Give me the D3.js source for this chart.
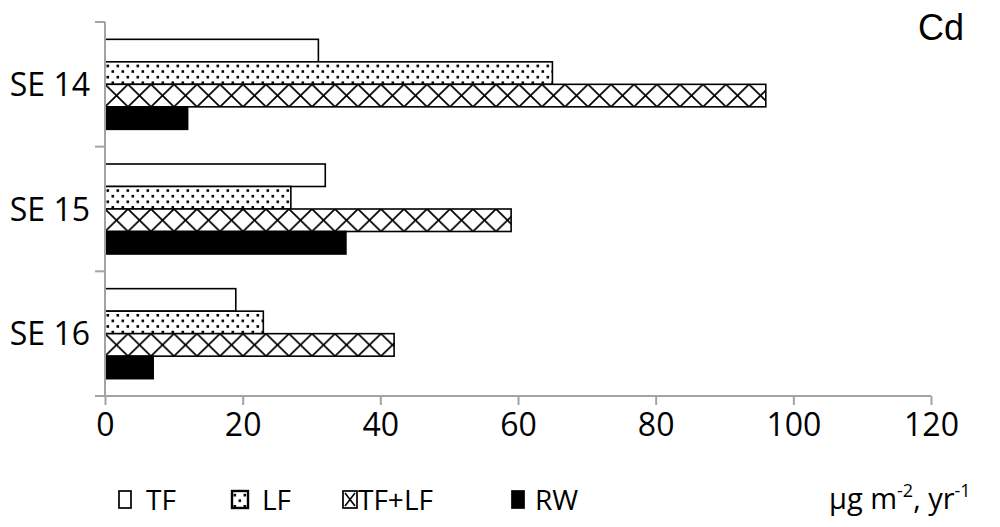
<!DOCTYPE html>
<html>
<head>
<meta charset="utf-8">
<script src="https://cdn.jsdelivr.net/npm/d3@7"></script>
<style>
  body { margin: 0; background: #fff; }
  svg { display: block; }
  .lbl { font-family: "Open Sans", "Noto Sans", sans-serif; fill: #000; }
</style>
</head>
<body>
<svg id="chart" width="1000" height="527"></svg>
<script>
const sites = ['SE 14', 'SE 15', 'SE 16'];
const seriesNames = ['TF', 'LF', 'TF+LF', 'RW'];
const tf = [31, 32, 19];
const lf = [65, 27, 23];
const tfLf = [96, 59, 42];
const rw = [12, 35, 7];
const xTicks = [0, 20, 40, 60, 80, 100, 120];

const values = [tf, lf, tfLf, rw];
const svg = d3.select('#chart');
const axisColor = '#a3a3a3';

const x = d3.scaleLinear().domain([0, 120]).range([105, 931]);
const y = d3.scaleBand().domain(sites).range([22, 396]);
const ySub = d3.scaleBand().domain(seriesNames)
  .range([0, y.bandwidth()]).paddingOuter(0.77);

/* patterns */
const defs = svg.append('defs');
const dots = defs.append('pattern')
  .attr('id', 'dots')
  .attr('patternUnits', 'userSpaceOnUse')
  .attr('width', 10).attr('height', 11.2);
dots.append('rect').attr('width', 10).attr('height', 11.2).attr('fill', '#fff');
[[1.5, 2.8], [6.5, 8.4]].forEach(([cx, cy]) => {
  dots.append('rect').attr('x', cx).attr('y', cy)
    .attr('width', 2.6).attr('height', 2.6).attr('fill', '#000');
});

const bh = ySub.bandwidth();
const cross = defs.append('pattern')
  .attr('id', 'cross')
  .attr('patternUnits', 'userSpaceOnUse')
  .attr('width', 23).attr('height', bh);
cross.append('rect').attr('width', 23).attr('height', bh).attr('fill', '#fff');
cross.append('path')
  .attr('d', `M0 0 L23 ${bh} M23 0 L0 ${bh}`)
  .attr('stroke', '#000').attr('stroke-width', 1.7);

const fills = ['#fff', 'url(#dots)', 'url(#cross)', '#000'];

/* bars */
seriesNames.forEach((s, i) => {
  svg.append('g').selectAll('g')
    .data(sites)
    .join('g')
    .attr('transform', (d) => `translate(${x(0)},${y(d) + ySub(s)})`)
    .append('rect')
    .attr('x', 0)
    .attr('y', 0)
    .attr('width', (d, j) => x(values[i][j]) - x(0))
    .attr('height', bh)
    .attr('fill', fills[i])
    .attr('stroke', '#000')
    .attr('stroke-width', 1.6);
});

/* x axis */
const xAxis = svg.append('g')
  .attr('transform', `translate(0,${y.range()[1]})`)
  .call(d3.axisBottom(x).tickValues(xTicks).tickSize(9).tickSizeOuter(0).tickPadding(8));
xAxis.select('.domain').attr('d', `M95,0H${x(120)}`);
xAxis.selectAll('line').attr('stroke', axisColor).attr('stroke-width', 2);
xAxis.select('.domain').attr('stroke', axisColor).attr('stroke-width', 2);
xAxis.selectAll('text')
  .attr('class', 'lbl')
  .attr('font-size', 32)
  .attr('fill', '#000');

/* y axis */
const yAxisG = svg.append('g');
yAxisG.append('line')
  .attr('x1', x(0)).attr('x2', x(0))
  .attr('y1', y.range()[0]).attr('y2', y.range()[1])
  .attr('stroke', axisColor).attr('stroke-width', 2);
const bounds = sites.map((d) => y(d)).concat([y.range()[1]]);
yAxisG.selectAll('line.tick')
  .data(bounds)
  .join('line')
  .attr('class', 'tick')
  .attr('x1', x(0) - 10).attr('x2', x(0))
  .attr('y1', (d) => d).attr('y2', (d) => d)
  .attr('stroke', axisColor).attr('stroke-width', 2);
yAxisG.selectAll('text')
  .data(sites)
  .join('text')
  .attr('class', 'lbl')
  .attr('x', 90)
  .attr('y', (d) => y(d) + y.bandwidth() / 2)
  .attr('dy', '0.36em')
  .attr('text-anchor', 'end')
  .attr('font-size', 32)
  .text((d) => d);

/* element label */
svg.append('text')
  .attr('x', 918)
  .attr('y', 40)
  .attr('font-family', '"Liberation Sans", Arial, sans-serif')
  .attr('font-size', 36)
  .text('Cd');

/* legend */
const legendX = [119, 232, 343, 512];
const textX = [146, 262, 358, 535];
const legend = svg.append('g');
seriesNames.forEach((s, i) => {
  const g = legend.append('g').attr('transform', `translate(${legendX[i]},491)`);
  const w = i === 1 ? 16 : (i === 2 ? 14 : 12);
  g.append('rect')
    .attr('x', 0).attr('y', 0)
    .attr('width', w).attr('height', 17)
    .attr('fill', i === 2 ? '#fff' : fills[i])
    .attr('stroke', '#000')
    .attr('stroke-width', i === 1 ? 2.4 : 1.7);
  if (i === 2) {
    g.append('path')
      .attr('d', `M2 2 L${w - 2} 15 M${w - 2} 2 L2 15`)
      .attr('stroke', '#000').attr('stroke-width', 1.6);
  }
  legend.append('text')
    .attr('class', 'lbl')
    .attr('x', textX[i])
    .attr('y', 510)
    .attr('font-size', 28)
    .text(s);
});

/* unit label */
const unit = svg.append('text')
  .attr('class', 'lbl')
  .attr('x', 829)
  .attr('y', 509)
  .attr('font-size', 29);
unit.append('tspan').text('µg m');
unit.append('tspan').attr('font-size', 18).attr('dy', -12).text('-2');
unit.append('tspan').attr('dy', 12).text(', yr');
unit.append('tspan').attr('font-size', 18).attr('dy', -12).text('-1');
</script>
</body>
</html>
